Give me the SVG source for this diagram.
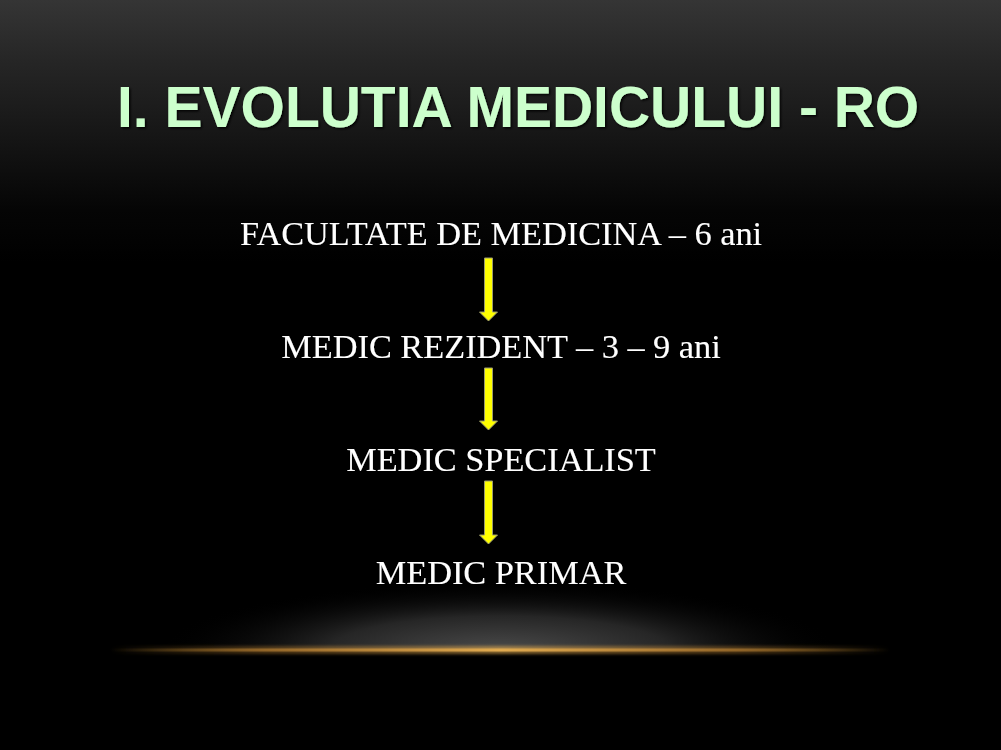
<svg xmlns="http://www.w3.org/2000/svg" width="1001" height="750" viewBox="0 0 1001 750">
  <defs>
    <linearGradient id="bg" x1="0" y1="0" x2="0" y2="1">
      <stop offset="0" stop-color="#353535"/>
      <stop offset="0.08" stop-color="#262626"/>
      <stop offset="0.18" stop-color="#161616"/>
      <stop offset="0.28" stop-color="#050505"/>
      <stop offset="0.35" stop-color="#000000"/>
      <stop offset="1" stop-color="#000000"/>
    </linearGradient>
    <radialGradient id="glow" cx="500" cy="650" r="340" gradientUnits="userSpaceOnUse" gradientTransform="translate(0 650) scale(1 0.2) translate(0 -650)">
      <stop offset="0" stop-color="#4a4a4a"/>
      <stop offset="0.5" stop-color="#262626"/>
      <stop offset="1" stop-color="#000000" stop-opacity="0"/>
    </radialGradient>
    <linearGradient id="line" x1="110" y1="0" x2="890" y2="0" gradientUnits="userSpaceOnUse">
      <stop offset="0" stop-color="#c08a30" stop-opacity="0"/>
      <stop offset="0.2" stop-color="#b07a30" stop-opacity="0.7"/>
      <stop offset="0.5" stop-color="#e0aa50"/>
      <stop offset="0.8" stop-color="#b07a30" stop-opacity="0.7"/>
      <stop offset="1" stop-color="#c08a30" stop-opacity="0"/>
    </linearGradient>
    <filter id="shadow" x="-5%" y="-20%" width="110%" height="140%">
      <feDropShadow dx="1.5" dy="1.5" stdDeviation="0.8" flood-color="#000" flood-opacity="0.9"/>
    </filter>
    <filter id="blur" x="-5%" y="-300%" width="110%" height="700%">
      <feGaussianBlur stdDeviation="1.5"/>
    </filter>
  </defs>
  <style>
    .title { font-family: "Liberation Sans", Arial, sans-serif; font-weight: bold; font-size: 57px; fill: #ccffcc; }
    .lbl { font-family: "Liberation Serif", "Times New Roman", serif; font-size: 34.3px; fill: #ffffff; text-anchor: middle; }
    .arrow { fill: #ffff00; stroke: #9a9a70; stroke-width: 1; }
  </style>

  <rect width="1001" height="750" fill="url(#bg)"/>
  <rect x="100" y="570" width="800" height="80" fill="url(#glow)"/>
  <rect x="110" y="646" width="780" height="8" fill="url(#line)" filter="url(#blur)" opacity="0.6"/>
  <rect x="110" y="648.5" width="780" height="3" fill="url(#line)"/>

  <text class="title" x="117" y="127" filter="url(#shadow)">I. EVOLUTIA MEDICULUI - RO</text>

  <g id="node-facultate">
    <text class="lbl" x="501" y="245" filter="url(#shadow)">FACULTATE DE MEDICINA – 6 ani</text>
  </g>
  <g id="node-rezident">
    <text class="lbl" x="501" y="358" filter="url(#shadow)">MEDIC REZIDENT – 3 – 9 ani</text>
  </g>
  <g id="node-specialist">
    <text class="lbl" x="501" y="471" filter="url(#shadow)">MEDIC SPECIALIST</text>
  </g>
  <g id="node-primar">
    <text class="lbl" x="501" y="584" filter="url(#shadow)">MEDIC PRIMAR</text>
  </g>

  <g id="connectors">
    <path class="arrow" d="M484.5 258 H492.5 V312 H497.5 L488.5 321 L479.5 312 H484.5 Z"/>
    <path class="arrow" d="M484.5 368 H492.5 V421 H497.5 L488.5 430 L479.5 421 H484.5 Z"/>
    <path class="arrow" d="M484.5 481 H492.5 V535 H497.5 L488.5 544 L479.5 535 H484.5 Z"/>
  </g>
</svg>
